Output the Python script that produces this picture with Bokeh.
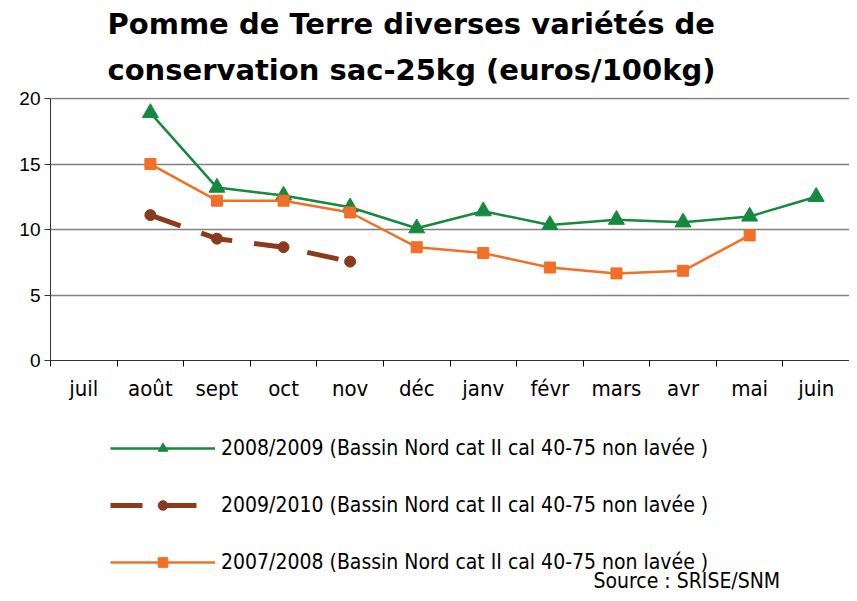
import numpy as np
from bokeh.plotting import figure
from bokeh.layouts import column
from bokeh.models import (Range1d, FixedTicker, Legend, LegendItem, Title, Label,
                          ColumnDataSource)
from bokeh.embed import file_html
from bokeh.resources import INLINE

months = ["juil", "août", "sept", "oct", "nov", "déc", "janv", "févr", "mars", "avr", "mai", "juin"]
s0809 = [None, 18.9, 13.2, 12.6, 11.7, 10.1, 11.4, 10.35, 10.75, 10.55, 11.0, 12.5]
s0910 = [None, 11.1, 9.3, 8.65, 7.55, None, None, None, None, None, None, None]
s0708 = [None, 15.0, 12.2, 12.2, 11.3, 8.65, 8.2, 7.1, 6.65, 6.85, 9.55, None]
labels = ["2008/2009 (Bassin Nord cat II cal 40-75 non lavée )",
          "2009/2010 (Bassin Nord cat II cal 40-75 non lavée )",
          "2007/2008 (Bassin Nord cat II cal 40-75 non lavée )"]
title1 = "Pomme de Terre diverses variétés de"
title2 = "conservation  sac-25kg (euros/100kg)"
source_txt = "Source : SRISE/SNM"
yticks = [0, 5, 10, 15, 20]

GREEN = "#17893e"
BROWN = "#8b3a1e"
ORANGE = "#f26f27"
NARROW = "'DejaVu Sans Condensed', 'Liberation Sans Narrow', 'Liberation Sans'"
W = 849
LEFT = 50

xpos = np.arange(len(months)) + 0.5

p = figure(width=W, height=410, output_backend="svg", toolbar_location=None,
           x_range=Range1d(0, len(months)), y_range=Range1d(0, 20.08),
           min_border_left=LEFT, min_border_right=0, min_border_top=97, min_border_bottom=50)
p.outline_line_color = None
p.background_fill_color = "white"
p.border_fill_color = "white"

def series(vals):
    xs, ys = [], []
    for x, v in zip(xpos, vals):
        if v is not None:
            xs.append(x); ys.append(v)
    return ColumnDataSource(dict(x=xs, y=ys))

styles = [
    dict(line=dict(line_color=GREEN, line_width=2.5),
         mark=dict(marker="triangle", size=16, fill_color=GREEN, line_color=GREEN)),
    dict(line=dict(line_color=BROWN, line_width=5, line_dash="32 22"),
         mark=dict(marker="circle", size=11, fill_color=BROWN, line_color=BROWN)),
    dict(line=dict(line_color=ORANGE, line_width=2.5),
         mark=dict(marker="square", size=11, fill_color=ORANGE, line_color=ORANGE)),
]
data = [s0809, s0910, s0708]
sources = [series(v) for v in data]

for src, st in zip(sources, styles):
    p.line("x", "y", source=src, **st["line"])
    p.scatter("x", "y", source=src, **st["mark"])

# axes
xa = p.xaxis[0]
xa.ticker = FixedTicker(ticks=list(xpos), minor_ticks=list(range(len(months) + 1)))
xa.major_label_overrides = {float(x): m for x, m in zip(xpos, months)}
xa.major_tick_line_color = None
xa.minor_tick_line_color = "black"
xa.minor_tick_out = 6
xa.minor_tick_in = 0
xa.axis_line_color = "#333333"
xa.major_label_standoff = 9
xa.major_label_text_font = NARROW
xa.major_label_text_font_size = "22px"
xa.major_label_text_color = "black"

ya = p.yaxis[0]
ya.ticker = FixedTicker(ticks=yticks)
ya.bounds = (0, 20)
ya.major_tick_out = 6
ya.major_tick_in = 0
ya.minor_tick_line_color = None
ya.major_tick_line_color = "#333333"
ya.axis_line_color = "#333333"
ya.major_label_standoff = 4
ya.major_label_text_font = "Liberation Sans"
ya.major_label_text_font_size = "19px"
ya.major_label_text_color = "black"

p.xgrid.grid_line_color = None
p.ygrid.grid_line_color = "#808080"
p.ygrid.grid_line_width = 1.3
p.ygrid.ticker = FixedTicker(ticks=yticks)

# titles
for txt, off, so in [(title2, 57, 21), (title1, 57, 0)]:
    p.add_layout(Title(text=txt, align="left", offset=off, text_font="DejaVu Sans",
                       text_font_style="bold", text_font_size="29px", text_color="black",
                       standoff=so), "above")

# legend area (second panel; its renderers are hidden, only the legend keys show)
H2 = 183
q = figure(width=W, height=H2, output_backend="svg", toolbar_location=None,
           x_axis_location=None, y_axis_location=None,
           x_range=Range1d(0, len(months)), y_range=Range1d(0, 20),
           min_border_left=LEFT, min_border_right=0, min_border_top=0, min_border_bottom=0)
q.outline_line_color = None
q.grid.visible = False
q.border_fill_color = "white"

items = []
for lab, src, st in zip(labels, sources, styles):
    rl = q.line("x", "y", source=src, visible=False, **st["line"])
    rm = q.scatter("x", "y", source=src, visible=False, **st["mark"])
    items.append(LegendItem(label=lab, renderers=[rl, rm]))

legend = Legend(items=items, location=(110 - LEFT, 19), orientation="vertical",
                glyph_width=105, glyph_height=24, spacing=33, label_standoff=6,
                padding=0, margin=0, border_line_color=None, background_fill_alpha=0,
                inactive_fill_alpha=0, click_policy="none",
                label_text_font=NARROW, label_text_font_size="21px", label_text_color="black")
q.add_layout(legend, "center")

q.add_layout(Label(x=593 - LEFT, y=1, x_units="screen", y_units="screen", text=source_txt,
                   text_font=NARROW, text_font_size="21px", text_color="black",
                   text_baseline="bottom"))

layout = column(p, q, spacing=0)
open("out.html", "w").write(file_html(layout, INLINE))
